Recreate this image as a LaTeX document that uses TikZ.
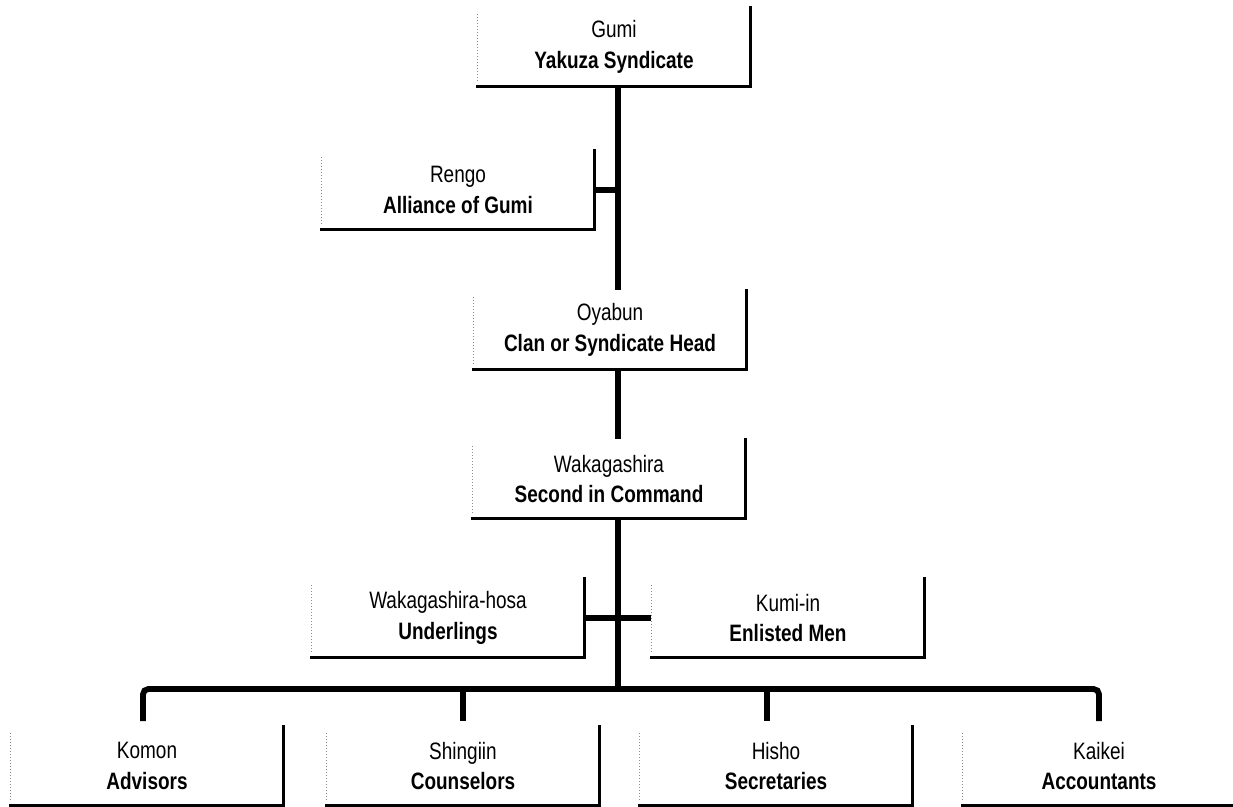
\documentclass[tikz,border=0pt]{standalone}
\usepackage{fontspec}
\setmainfont{Liberation Sans}[FakeStretch=0.8]
\usetikzlibrary{positioning,calc}
\tikzset{
post/.style = {rectangle, minimum width=5.46cm, minimum height=1.58cm, align=center, inner sep=0pt, font=\fontsize{13.5}{17.6}\selectfont},
rim/.style  = {line width=1.7pt, line cap=rect},
faint/.style = {draw=black!45, densely dotted, line width=0.7pt, shorten <=0.14cm, shorten >=0.1cm},
link/.style = {line width=3.3pt}
}

\begin{document}
\begin{tikzpicture}[x=0.02cm, y=-0.02cm]
  \useasboundingbox (0,0) rectangle (1233,806);
  \node [post] (gumi)     at (614,47)   {Gumi\\\textbf{Yakuza Syndicate}};
  \node [post] (rengo)    at (458,190)  {Rengo\\\textbf{Alliance of Gumi}};
  \node [post] (oyabun)   at (610,330)  {Oyabun\\\textbf{Clan or Syndicate Head}};
  \node [post] (waka)     at (609,479)  {Wakagashira\\\textbf{Second in Command}};
  \node [post] (hosa)     at (448,618)  {Wakagashira-hosa\\\textbf{Underlings}};
  \node [post] (kumi)     at (788,618)  {Kumi-in\\\textbf{Enlisted Men}};
  \node [post] (komon)    at (147,766)  {Komon\\\textbf{Advisors}};
  \node [post] (shingiin) at (463,766)  {Shingiin\\\textbf{Counselors}};
  \node [post] (hisho)    at (776,766)  {Hisho\\\textbf{Secretaries}};
  \node [post] (kaikei)   at (1099,766) {Kaikei\\\textbf{Accountants}};
  \coordinate (trunk) at (618,0);
  \coordinate (bus)   at (0,689);

  % open boxes: faint left side, heavy bottom and right
  \foreach \n in {gumi,rengo,oyabun,waka,hosa,kumi,komon,shingiin,hisho,kaikei}{
    \draw [faint] (\n.north west) -- (\n.south west);
    \draw [rim] (\n.south west) -- (\n.south east) -- (\n.north east);
  }

  \draw [link] (gumi.south -| trunk) -- (oyabun.north -| trunk);
  \draw [link] (rengo.east) -- (rengo.east -| trunk);
  \draw [link] (oyabun.south -| trunk) -- (waka.north -| trunk);
  \draw [link] (waka.south -| trunk) -- (bus -| trunk);
  \draw [link] (hosa.east) -- (kumi.west);
  \draw [link, rounded corners=3pt, shorten <=0.1cm, shorten >=0.1cm] ([xshift=-0.08cm]komon.north) -- ([xshift=-0.08cm]komon.north |- bus) -- (kaikei.north |- bus) -- (kaikei.north);
  \draw [link, shorten <=0.1cm] (shingiin.north) -- (shingiin.north |- bus);
  \draw [link, shorten <=0.1cm] ([xshift=-0.18cm]hisho.north) -- ([xshift=-0.18cm]hisho.north |- bus);
\end{tikzpicture}
\end{document}
